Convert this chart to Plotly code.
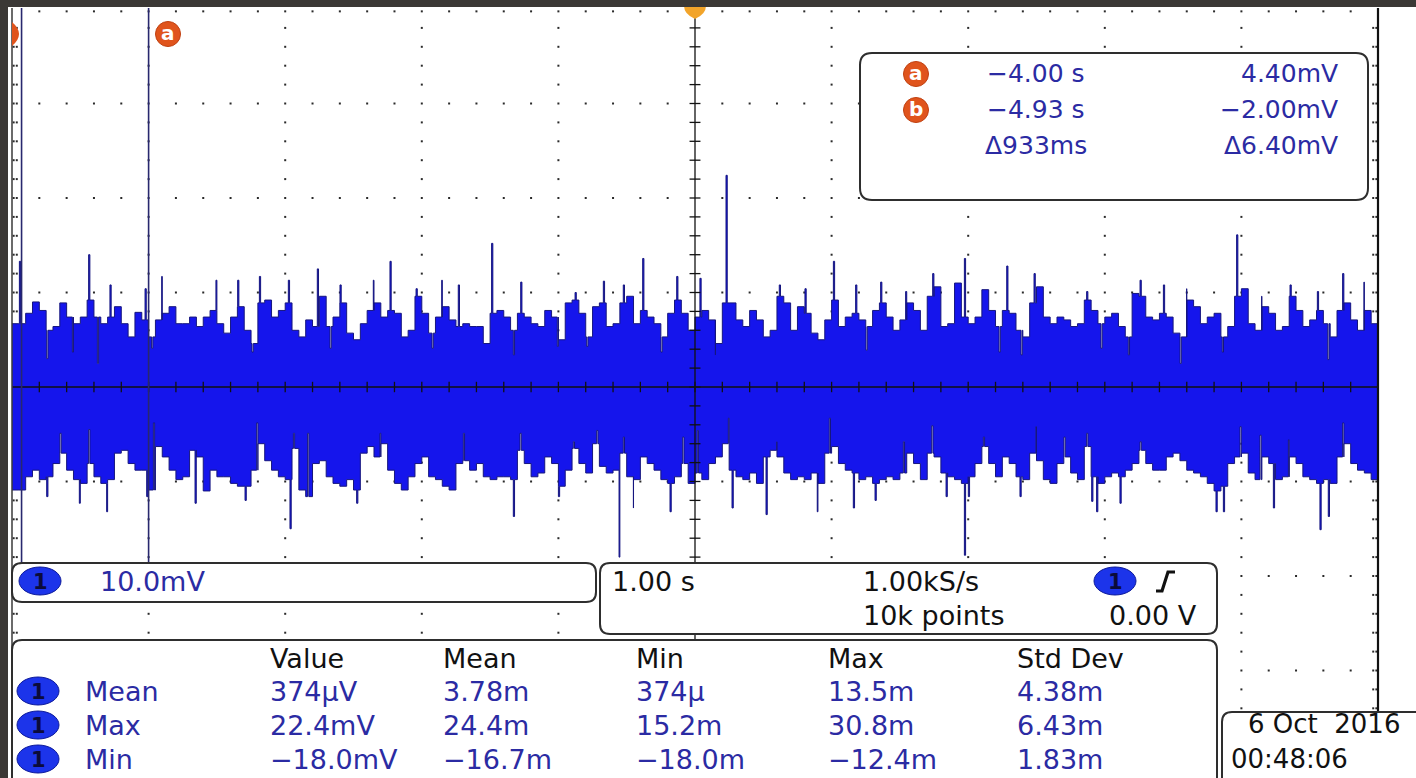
import numpy as np
import plotly.graph_objects as go

W, H = 1416, 778

# ---------------- data ----------------
# time axis (s) and voltage (mV)
env_t0 = -5.0            # start of record (s)
env_step = 0.05          # envelope column width (s)

upper_env_mV = [
    6.7, 6.7, 7.8, 9.0, 8.1, 6.0, 6.4, 8.9, 7.4, 6.7,
    7.4, 9.2, 7.4, 6.7, 7.4, 8.5, 6.7, 5.3, 7.9, 7.1,
    5.3, 7.1, 7.8, 8.5, 6.7, 6.7, 7.4, 6.4, 7.4, 8.1,
    6.7, 5.7, 7.4, 8.5, 6.0, 4.6, 8.9, 9.2, 7.4, 8.1,
    8.9, 6.0, 5.3, 7.1, 6.4, 9.6, 6.4, 7.4, 8.9, 5.7,
    5.0, 6.7, 8.1, 8.9, 7.4, 8.1, 7.8, 5.3, 6.0, 9.6,
    7.8, 5.7, 7.4, 8.5, 7.1, 6.4, 6.7, 6.4,
    6.4, 4.6, 7.8, 8.1, 7.4, 6.0, 7.8, 7.4, 6.7, 6.4,
    8.1, 7.4, 5.0, 8.9, 9.2, 7.8, 5.3, 8.5, 8.9, 6.4,
    6.7, 8.9, 9.6, 6.7, 8.1, 7.4, 6.7, 5.3, 7.8, 9.2,
    7.8, 6.0, 7.4, 8.1, 7.1, 4.6, 8.9, 8.9, 7.1, 6.4,
    8.1, 7.1, 5.3, 6.0, 9.6, 8.9, 6.0, 8.5, 7.8, 5.7,
    5.0, 7.1, 9.2, 6.4, 7.4, 7.8, 7.1, 6.4, 8.1, 8.9,
    7.4, 6.0, 7.1, 8.9, 8.1, 6.0,
    9.6, 10.6, 6.4, 6.7, 11.0, 7.4, 6.7, 7.4, 10.3, 8.1,
    6.4, 8.1, 7.8, 6.0, 5.3, 8.9, 10.6, 7.4, 6.7, 7.4,
    7.1, 6.4, 6.7, 9.2, 8.1, 6.7, 7.4, 7.8, 6.4, 5.3,
    9.9, 9.6, 7.4, 7.1, 7.8, 7.4, 5.7, 5.3, 9.2, 8.5,
    6.7, 7.4, 7.8, 5.3, 6.4, 9.6, 10.4, 6.7, 6.0, 8.5,
    7.8, 6.0, 6.4, 9.6, 8.1, 6.4, 7.1, 8.1, 6.7, 5.3,
    8.1, 8.9, 7.1, 6.0, 8.1, 6.7, 7.8,
]

lower_env_mV = [
    -10.9, -10.9, -9.5, -8.8, -9.8, -9.5, -8.1, -7.0, -8.8, -9.8,
    -10.2, -8.1, -9.5, -10.2, -9.8, -7.0, -6.7, -8.1, -8.8, -8.8,
    -10.9, -6.3, -7.4, -8.8, -9.8, -9.5, -6.7, -7.4, -11.0, -8.8,
    -9.5, -9.5, -10.2, -10.5, -10.5, -8.8, -6.0, -7.8, -8.8, -9.5,
    -9.8, -6.5, -10.9, -11.6, -8.1, -7.8, -9.5, -10.2, -10.5, -9.8,
    -10.9, -7.0, -6.3, -7.4, -6.0, -8.8, -10.2, -10.9, -9.5, -8.1,
    -7.4, -9.5, -9.8, -10.5, -10.9, -8.1, -7.8, -8.8,
    -8.1, -9.5, -9.8, -9.5, -9.5, -9.8, -6.7, -8.1, -9.5, -9.1,
    -7.4, -8.1, -10.5, -8.8, -6.5, -8.1, -9.1, -6.0, -8.4, -9.1,
    -8.8, -7.0, -9.5, -9.8, -7.4, -8.1, -8.8, -9.8, -10.2, -9.5,
    -8.1, -10.2, -9.1, -9.8, -8.1, -7.4, -6.0, -8.8, -9.5, -9.8,
    -9.1, -10.2, -7.4, -6.7, -7.4, -9.1, -9.8, -9.5, -9.8, -9.1,
    -10.2, -7.0, -6.3, -8.1, -8.8, -9.1, -9.8, -9.5, -10.2, -9.8,
    -9.5, -9.8, -9.1, -7.0, -8.1, -9.8,
    -7.0, -7.4, -9.1, -9.5, -9.8, -10.2, -9.5, -8.1, -6.3, -8.1,
    -9.5, -7.4, -8.1, -9.5, -9.8, -7.0, -7.8, -9.8, -10.2, -8.1,
    -7.4, -9.1, -9.8, -6.3, -9.5, -10.2, -9.5, -9.1, -9.5, -8.8,
    -8.1, -6.7, -8.1, -8.8, -8.8, -7.4, -7.0, -7.8, -8.8, -9.1,
    -9.5, -10.2, -11.0, -10.5, -8.1, -7.4, -7.0, -9.1, -9.8, -7.4,
    -8.1, -9.8, -9.5, -7.4, -8.1, -9.5, -9.8, -10.2, -9.8, -10.2,
    -7.4, -6.0, -8.1, -8.8, -9.1, -9.8, -10.2,
]

up_spike_t = [-4.946, -4.439, -4.283, -4.026, -3.904, -3.507, -3.348, -3.189,
              -2.977, -2.765, -2.599, -2.355, -2.233, -2.042, -1.854, -1.733,
              -1.489, -1.276, -0.878, -0.671, -0.525, -0.383, -0.134, 0.036,
              0.227, 0.617, 0.805, 1.013, 1.176, 1.359, 1.542,
              1.740, 1.972, 2.282, 2.482, 2.867, 3.258, 3.429, 3.599, 3.965,
              4.148, 4.356, 4.556, 4.741, 4.897]
up_spike_mV = [13.3, 14.0, 10.8, 10.4, 11.7, 11.3, 11.3, 11.7,
               11.3, 12.5, 10.8, 11.3, 13.3, 10.4, 11.3, 10.8,
               15.2, 11.1, 10.0, 11.2, 10.8, 13.6, 11.7, 11.5,
               22.4, 10.8, 10.4, 13.3, 10.8, 11.1, 10.1,
               12.0, 13.6, 12.8, 12.0, 10.1, 11.3, 10.8, 10.4, 16.1,
               9.6, 10.8, 10.1, 12.0, 11.1]

dn_spike_t = [-4.746, -4.507, -4.307, -4.014, -3.660, -3.294, -2.965, -2.477,
              -1.330, -1.000, -0.556, -0.451, -0.183, 0.271, 0.520, 0.895,
              1.159, 1.318, 1.838, 1.972, 2.001, 2.379, 2.904, 2.940, 3.111,
              3.814, 3.868, 4.234, 4.575, 4.636]
dn_spike_mV = [-11.6, -12.3, -13.2, -11.6, -12.3, -12.0, -15.0, -12.3,
               -13.7, -11.6, -18.0, -12.8, -13.2, -12.8, -13.5, -13.2,
               -12.8, -12.0, -11.6, -17.8, -11.6, -11.6, -12.1, -13.2, -12.3,
               -13.2, -13.2, -12.8, -15.1, -13.7]

up_dip_t = [-4.746, -4.558, -4.375, -3.978, -3.243, -2.672, -1.925,
            -1.330, -1.008, -0.793, -0.249, 0.149, 1.252,
            2.226, 2.387, 2.972, 3.172, 3.551, 3.860, 4.632]
up_dip_mV = [3.0, 3.7, 2.5, 4.1, 3.7, 4.1, 4.1,
             3.4, 4.3, 4.3, 3.7, 3.4, 3.9,
             3.7, 3.4, 4.1, 3.4, 2.5, 3.7, 2.9]

dn_gap_t = [-4.649, -4.439, -3.965, -3.209, -2.940, -2.836, -2.306, -1.696,
            -1.281, -0.891, -0.720, -0.525, -0.090, 0.017, 0.244, 0.598, 0.983, 1.525,
            1.733, 2.111, 2.496, 2.701, 2.867, 3.258, 3.990, 4.136, 4.344, 4.741]
dn_gap_mV = [-4.9, -4.5, -3.8, -3.8, -4.9, -4.9, -4.9, -4.9,
             -4.9, -5.8, -4.6, -5.3, -5.3, -4.6, -3.3, -5.8, -3.3, -5.8,
             -4.1, -5.3, -4.2, -5.3, -4.9, -5.8, -4.2, -5.1, -5.6, -3.8]

cursor_a_t = -4.00
cursor_b_t = -4.93

cursor_rows = [("a", "\u22124.00 s", "4.40mV"),
               ("b", "\u22124.93 s", "\u22122.00mV"),
               ("", "\u0394933ms", "\u03946.40mV")]

ch_scale_label = "10.0mV"
timebase_label = "1.00 s"
rate_label = "1.00kS/s"
points_label = "10k points"
trig_level_label = "0.00 V"

meas_headers = ["Value", "Mean", "Min", "Max", "Std Dev"]
meas_names = ["Mean", "Max", "Min"]
meas_values = [
    ["374\u00b5V", "3.78m", "374\u00b5", "13.5m", "4.38m"],
    ["22.4mV", "24.4m", "15.2m", "30.8m", "6.43m"],
    ["\u221218.0mV", "\u221216.7m", "\u221218.0m", "\u221212.4m", "1.83m"],
]
date_line = "6 Oct\u00a0 2016"
time_line = "00:48:06"

# ---------------- geometry (pixels) ----------------
CX, CY = 695.0, 387.0           # screen centre
PX_PER_S = 136.6
PX_PER_MV = 9.45
x_range = [(0 - CX) / PX_PER_S, (W - CX) / PX_PER_S]
y_range = [(CY - H) / PX_PER_MV, (CY - 0) / PX_PER_MV]
screen_t = [-5.0, 5.0]
screen_top_mV = 40.1

NAVY = "#2b2ba3"
EDGE = "#16167e"
FILL = "#1515ec"
BOXLINE = "#2e2e2e"
FONT = "DejaVu Sans"
TS = 27   # main text size


def px(x):
    return x / W


def py(y):
    return 1 - y / H


def build_env(base, ev_t, ev_v, w):
    base = list(base)
    n = len(base)
    bt = [env_t0 + env_step * i for i in range(n)]
    pts = [(t, v, 0) for t, v in zip(bt, base)]
    for te, ve in zip(ev_t, ev_v):
        i = int(np.clip(np.floor((te - env_t0) / env_step + 1e-9), 0, n - 1))
        pts.append((te, ve, 1))
        nxt = bt[i + 1] if i + 1 < n else te + w
        rt = min(te + w, nxt - 1e-6)
        if rt > te:
            pts.append((rt, base[i], 2))
    pts.sort(key=lambda p: (p[0], p[2]))
    return [p[0] for p in pts], [p[1] for p in pts]


up_t, up_v = build_env(upper_env_mV, up_spike_t + up_dip_t, up_spike_mV + up_dip_mV, 0.009)
lo_t, lo_v = build_env(lower_env_mV, dn_spike_t + dn_gap_t, dn_spike_mV + dn_gap_mV, 0.009)

fig = go.Figure()

# ---------------- graticule dots ----------------
gx, gy = [], []
minor_t = [round(-5 + 0.2 * i, 3) for i in range(1, 50)]
minor_v = [round(-40 + 2 * j, 3) for j in range(1, 40)]
for v in [-30, -20, -10, 10, 20, 30]:
    for t in minor_t:
        if abs(t) > 1e-6:
            gx.append(t); gy.append(v)
for t in [-4, -3, -2, -1, 1, 2, 3, 4]:
    for v in minor_v:
        if abs(v) > 1e-6 and v % 10 != 0:
            gx.append(t); gy.append(v)
for t in minor_t:
    gx.append(t); gy.append(39.75)
for v in minor_v:
    for t in (-4.988, -4.965, 4.965, 4.988):
        gx.append(t); gy.append(v)
fig.add_trace(go.Scatter(x=gx, y=gy, mode="markers",
                         marker=dict(symbol="square", size=2, color="#2a2a2a", line=dict(width=0)),
                         hoverinfo="skip"))

# ---------------- waveform band ----------------
fig.add_trace(go.Scatter(x=lo_t, y=lo_v, mode="lines",
                         line=dict(color=EDGE, width=1, shape="hv"), hoverinfo="skip"))
fig.add_trace(go.Scatter(x=up_t, y=up_v, mode="lines", fill="tonexty", fillcolor=FILL,
                         line=dict(color=EDGE, width=1, shape="hv"), hoverinfo="skip"))

# ---------------- centre cross with ticks ----------------
cx_ = [screen_t[0], screen_t[1], None, 0, 0, None]
cy_ = [0, 0, None, y_range[0], screen_top_mV, None]
for t in minor_t:
    cx_ += [t, t, None]; cy_ += [-0.55, 0.55, None]
for v in minor_v:
    cx_ += [-0.04, 0.04, None]; cy_ += [v, v, None]
fig.add_trace(go.Scatter(x=cx_, y=cy_, mode="lines", line=dict(color="#111111", width=1.3),
                         hoverinfo="skip"))

shapes = []


def line_px(x0, y0, x1, y1, color, width):
    shapes.append(dict(type="line", xref="paper", yref="paper", x0=px(x0), y0=py(y0),
                       x1=px(x1), y1=py(y1), line=dict(color=color, width=width), layer="above"))


def rrect(x0, y0, x1, y1, r, fill="white", line=BOXLINE, lw=2):
    rx, ry = r / W, r / H
    X0, X1, Y0, Y1 = px(x0), px(x1), py(y0), py(y1)
    p = (f"M {X0 + rx},{Y0} L {X1 - rx},{Y0} Q {X1},{Y0} {X1},{Y0 - ry} "
         f"L {X1},{Y1 + ry} Q {X1},{Y1} {X1 - rx},{Y1} L {X0 + rx},{Y1} "
         f"Q {X0},{Y1} {X0},{Y1 + ry} L {X0},{Y0 - ry} Q {X0},{Y0} {X0 + rx},{Y0} Z")
    shapes.append(dict(type="path", xref="paper", yref="paper", path=p, fillcolor=fill,
                       line=dict(color=line, width=lw), layer="above"))


def oval(cx, cy, w, h, color, edge="#0d1a9a"):
    shapes.append(dict(type="circle", xref="paper", yref="paper", x0=px(cx - w / 2), x1=px(cx + w / 2),
                       y0=py(cy + h / 2), y1=py(cy - h / 2), fillcolor=color,
                       line=dict(color=edge, width=1), layer="above"))


# cursors
for ct in (cursor_a_t, cursor_b_t):
    shapes.append(dict(type="line", xref="x", yref="paper", x0=ct, x1=ct, y0=py(563), y1=py(8),
                       line=dict(color="#28286e", width=1.6), layer="above"))

# screen borders
line_px(12, 8, 12, 778, "#3a3a3a", 1.5)
line_px(1378, 8, 1378, 712, "#111111", 2.2)

# boxes
rrect(860, 53, 1368, 200, 12)
rrect(12, 563, 596, 602, 10)
rrect(600, 563, 1217, 634, 10)
rrect(12, 640, 1217, 800, 10)
rrect(1222, 712, 1440, 800, 10)

# orange cursor markers
oval(168, 34, 25, 25, "#e0541c", "#c04010")
shapes.append(dict(type="path", xref="paper", yref="paper",
                   path=f"M {px(12)},{py(22)} Q {px(26)},{py(34)} {px(12)},{py(46)} Z",
                   fillcolor="#e0541c", line=dict(width=0), layer="above"))
oval(916, 74, 25, 25, "#e0541c", "#c04010")
oval(916, 110, 25, 25, "#e0541c", "#c04010")

# trigger position marker
shapes.append(dict(type="path", xref="paper", yref="paper",
                   path=(f"M {px(684)},{py(6)} L {px(706)},{py(6)} Q {px(706)},{py(14)} {px(695)},{py(19)} "
                         f"Q {px(684)},{py(14)} {px(684)},{py(6)} Z"),
                   fillcolor="#f2a42a", line=dict(width=0), layer="above"))

# channel ovals
oval_pos = [(40, 581), (1115, 581), (38, 691), (38, 725), (38, 759)]
for (ox, oy) in oval_pos:
    oval(ox, oy, 42, 28, "#1c34ea")

# trigger slope glyph
shapes.append(dict(type="path", xref="paper", yref="paper",
                   path=(f"M {px(1156)},{py(591)} L {px(1162)},{py(591)} L {px(1168)},{py(572)} "
                         f"L {px(1175)},{py(572)}"),
                   line=dict(color="#111111", width=3.2), layer="above"))

# dark screenshot frame
shapes.append(dict(type="rect", xref="paper", yref="paper", x0=0, x1=1, y0=py(7), y1=1,
                   fillcolor="#3b3835", line=dict(width=0), layer="above"))
shapes.append(dict(type="rect", xref="paper", yref="paper", x0=0, x1=px(8), y0=0, y1=1,
                   fillcolor="#3b3835", line=dict(width=0), layer="above"))

annotations = []


def txt(x, y, s, size=TS, color=NAVY, anchor="left"):
    annotations.append(dict(x=px(x), y=py(y), xref="paper", yref="paper", text=s, showarrow=False,
                            xanchor=anchor, yanchor="middle",
                            font=dict(family=FONT, size=size, color=color)))


# cursor letters
txt(168, 33, "<b>a</b>", 20, "white", "center")
txt(916, 73, "<b>a</b>", 20, "white", "center")
txt(916, 109, "<b>b</b>", 20, "white", "center")

# cursor readout
for (lab, tv, vv), yy in zip(cursor_rows, [74, 110, 146]):
    txt(1036, yy, tv, 25, NAVY, "center")
    txt(1340, yy, vv, 25, NAVY, "right")

# channel / timebase
for (ox, oy) in oval_pos:
    txt(ox, oy + 1, "<b>1</b>", 21, "#0b0b3a", "center")
txt(98, 581, ch_scale_label, TS, NAVY)
txt(610, 581, timebase_label, TS, "#111111")
txt(861, 581, rate_label, TS, "#111111")
txt(861, 615, points_label, TS, "#111111")
txt(1199, 615, trig_level_label, TS, "#111111", "right")

# measurement table
col_x = [268, 441, 634, 826, 1015]
for cx, hname in zip(col_x, meas_headers):
    txt(cx, 658, hname, TS, "#111111")
for row_i, (name, vals) in enumerate(zip(meas_names, meas_values)):
    yy = [691, 725, 759][row_i]
    txt(83, yy, name, TS, NAVY)
    for cx, v in zip(col_x, vals):
        txt(cx, yy, v, TS, NAVY)

# date box
txt(1246, 724, date_line, 26, "#111111")
txt(1229, 759, time_line, 26, "#111111")

fig.update_layout(
    width=W, height=H, autosize=False,
    margin=dict(l=0, r=0, t=0, b=0, pad=0),
    paper_bgcolor="white", plot_bgcolor="white",
    showlegend=False,
    xaxis=dict(range=x_range, visible=False, fixedrange=True),
    yaxis=dict(range=y_range, visible=False, fixedrange=True),
    shapes=shapes, annotations=annotations,
)

fig.write_html(
    "out.html",
    config={"displayModeBar": False},
    post_script="document.body.style.margin='0';document.body.style.overflow='hidden';",
)
